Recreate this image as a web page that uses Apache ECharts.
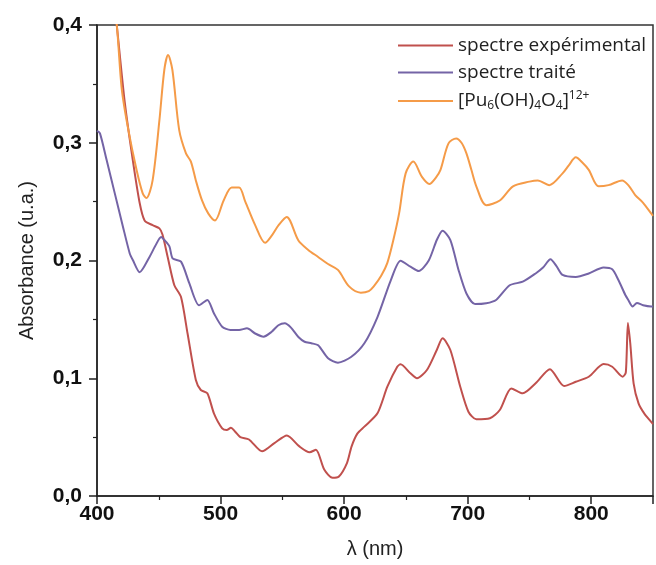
<!DOCTYPE html>
<html>
<head>
<meta charset="utf-8">
<script src="https://cdn.jsdelivr.net/npm/echarts@6/dist/echarts.min.js"></script>
<style>html,body{margin:0;padding:0;background:#fff;}#c{width:656px;height:565px;}</style>
</head>
<body>
<div id="c"></div>
<script>
const expWl = [405, 412, 416, 422.5, 429, 434.5, 438.5, 445, 450.5, 453, 457.2, 462.6, 468, 473.3, 480, 484, 489.3, 494.7, 501.3, 505, 508.4, 511.7, 516, 523, 533.6, 543.6, 553.7, 563.8, 572.1, 577.2, 583.9, 590.6, 595.6, 602.3, 606, 610.7, 616.4, 627, 635, 643, 645.7, 653.7, 659, 667, 675, 679.7, 686, 694, 700.6, 707, 718, 726, 735.3, 744.6, 755, 766.6, 778, 787.5, 798, 810, 817, 825.5, 828, 829.7, 831.6, 834.3, 838.3, 843, 848.5, 850];
const expAbs = [0.50, 0.44, 0.40, 0.334, 0.285, 0.249, 0.234, 0.230, 0.2273, 0.222, 0.203, 0.179, 0.169, 0.138, 0.0985, 0.090, 0.0872, 0.070, 0.0575, 0.056, 0.058, 0.0548, 0.050, 0.048, 0.0379, 0.0449, 0.0514, 0.0421, 0.0371, 0.0393, 0.0225, 0.0154, 0.0163, 0.028, 0.042, 0.053, 0.0589, 0.0702, 0.0928, 0.1098, 0.1118, 0.1042, 0.100, 0.107, 0.124, 0.1339, 0.124, 0.0928, 0.0716, 0.0651, 0.066, 0.073, 0.0914, 0.0872, 0.0957, 0.1076, 0.0934, 0.097, 0.1013, 0.112, 0.1098, 0.1013, 0.105, 0.147, 0.1297, 0.0957, 0.0787, 0.070, 0.063, 0.061];

const trWl = [400, 402.4, 407.8, 414.4, 421, 426.5, 429, 434.5, 442.5, 447, 451.9, 454.5, 458.6, 461.2, 468, 474.6, 482.6, 489.3, 494.7, 501.3, 508, 515, 521.4, 528, 534.8, 541.4, 546.8, 552, 557, 563, 568, 573.5, 579, 587, 595, 605.6, 616.4, 627, 637.7, 645.7, 653.7, 660.4, 668.5, 675, 679.7, 686, 692.6, 699, 706, 715, 723, 734, 744.6, 755, 761, 767, 772, 776.8, 787.5, 798, 810, 817, 822, 827.6, 830, 833.5, 837, 842, 848.5, 850];
const trAbs = [0.31, 0.308, 0.2853, 0.257, 0.2287, 0.206, 0.2004, 0.190, 0.203, 0.212, 0.220, 0.2174, 0.212, 0.2018, 0.199, 0.181, 0.162, 0.1665, 0.155, 0.1438, 0.141, 0.141, 0.1424, 0.138, 0.1353, 0.1395, 0.145, 0.1467, 0.143, 0.135, 0.131, 0.1297, 0.128, 0.117, 0.1132, 0.118, 0.1297, 0.152, 0.183, 0.1998, 0.1947, 0.191, 0.200, 0.2174, 0.2253, 0.2174, 0.192, 0.172, 0.163, 0.1637, 0.1665, 0.179, 0.182, 0.189, 0.194, 0.201, 0.195, 0.1877, 0.186, 0.189, 0.194, 0.1925, 0.1834, 0.1707, 0.1665, 0.161, 0.164, 0.162, 0.161, 0.161];

const puWl = [405, 412, 416, 420, 425, 432, 437, 440, 445, 450.5, 454.5, 457.5, 461, 466.5, 472, 476, 480, 485, 490, 495.5, 502.5, 509, 515, 520, 528, 536, 542, 547, 553.5, 563, 571, 579, 587, 595, 604, 613.5, 620, 624, 630, 635, 640, 644.5, 649.8, 656, 663, 669, 674, 678, 684.5, 690.7, 695, 699, 703, 707, 715, 726, 736.7, 750, 756.7, 766, 776.8, 782, 787.5, 793, 798, 806, 814, 825, 830, 835.6, 842, 848.5, 850];
const puAbs = [0.47, 0.43, 0.40, 0.346, 0.313, 0.277, 0.257, 0.253, 0.268, 0.319, 0.362, 0.3745, 0.362, 0.311, 0.291, 0.284, 0.268, 0.251, 0.240, 0.234, 0.251, 0.262, 0.262, 0.250, 0.230, 0.215, 0.222, 0.230, 0.237, 0.217, 0.209, 0.203, 0.197, 0.192, 0.178, 0.1727, 0.174, 0.178, 0.187, 0.198, 0.218, 0.240, 0.274, 0.284, 0.271, 0.265, 0.270, 0.277, 0.2995, 0.3037, 0.300, 0.291, 0.277, 0.263, 0.247, 0.251, 0.263, 0.267, 0.268, 0.264, 0.274, 0.281, 0.2876, 0.283, 0.277, 0.263, 0.264, 0.268, 0.264, 0.2556, 0.249, 0.240, 0.238];

const seriesNames = ['spectre expérimental', 'spectre traité', '[Pu6(OH)4O4]12+'];
const xTicks = [400, 500, 600, 700, 800];
const yTicks = [0.0, 0.1, 0.2, 0.3, 0.4];
const colors = ['#c0504d', '#7464a6', '#f59b48'];

function pairs(xs, ys) { return xs.map((x, i) => [x, ys[i]]); }

const chart = echarts.init(document.getElementById('c'), null, {renderer: 'canvas'});
const axisCol = '#222';
const lf = 'Open Sans';
chart.setOption({
  animation: false,
  backgroundColor: '#fff',
  grid: {left: 97, top: 25, width: 558, height: 471, show: true, borderColor: '#333', borderWidth: 1.5, backgroundColor: 'transparent'},
  legend: {
    orient: 'vertical', left: 393, top: 31, padding: 5, itemWidth: 55, itemHeight: 2, itemGap: 8,
    icon: 'rect',
    data: seriesNames,
    textStyle: {fontFamily: lf, fontSize: 19, color: '#222',
      rich: {
        a: {fontFamily: lf, fontSize: 19, color: '#222', lineHeight: 22, verticalAlign: 'middle'},
        s: {fontFamily: lf, fontSize: 12, color: '#222', lineHeight: 22, verticalAlign: 'bottom'},
        p: {fontFamily: lf, fontSize: 12, color: '#222', lineHeight: 22, verticalAlign: 'top'}
      }
    },
    formatter: function (n) {
      if (n === seriesNames[2]) return '{a|[Pu}{s|6}{a|(OH)}{s|4}{a|O}{s|4}{a|]}{p|12+}';
      return '{a|' + n + '}';
    }
  },
  xAxis: {
    type: 'value', min: 400, max: 850, interval: 100,
    name: 'λ (nm)', nameLocation: 'middle', nameGap: 43,
    nameTextStyle: {fontFamily: 'Liberation Sans', fontSize: 20, color: '#222'},
    axisLine: {show: true, lineStyle: {color: axisCol, width: 1.5}},
    axisTick: {show: true, inside: false, length: 8, lineStyle: {color: axisCol, width: 1.5}},
    minorTick: {show: true, splitNumber: 2, length: 4, lineStyle: {color: axisCol, width: 1.2}},
    splitLine: {show: false},
    axisLabel: {fontFamily: 'Liberation Sans', fontWeight: 'bold', fontSize: 21, color: '#111', margin: 8,
      formatter: v => xTicks.includes(v) ? String(v) : ''}
  },
  yAxis: {
    type: 'value', min: 0, max: 0.4, interval: 0.1,
    name: 'Absorbance (u.a.)', nameLocation: 'middle', nameGap: 60, nameRotate: 90,
    nameTextStyle: {fontFamily: 'Liberation Sans', fontSize: 20, color: '#222'},
    axisLine: {show: true, lineStyle: {color: axisCol, width: 1.5}},
    axisTick: {show: true, inside: false, length: 8, lineStyle: {color: axisCol, width: 1.5}},
    minorTick: {show: true, splitNumber: 2, length: 4, lineStyle: {color: axisCol, width: 1.2}},
    splitLine: {show: false},
    axisLabel: {fontFamily: 'Liberation Sans', fontWeight: 'bold', fontSize: 21, color: '#111', margin: 15,
      formatter: v => {
        const t = yTicks.find(k => Math.abs(k - v) < 1e-9);
        return t === undefined ? '' : t.toFixed(1).replace('.', ',');
      }}
  },
  series: seriesNames.map((n, i) => ({
    name: n, type: 'line',
    data: [pairs(expWl, expAbs), pairs(trWl, trAbs), pairs(puWl, puAbs)][i],
    symbol: 'none', smooth: i === 2 ? 0.3 : 0.25, clip: true,
    lineStyle: {color: colors[i], width: 2}, itemStyle: {color: colors[i]}
  }))
});
</script>
</body>
</html>
